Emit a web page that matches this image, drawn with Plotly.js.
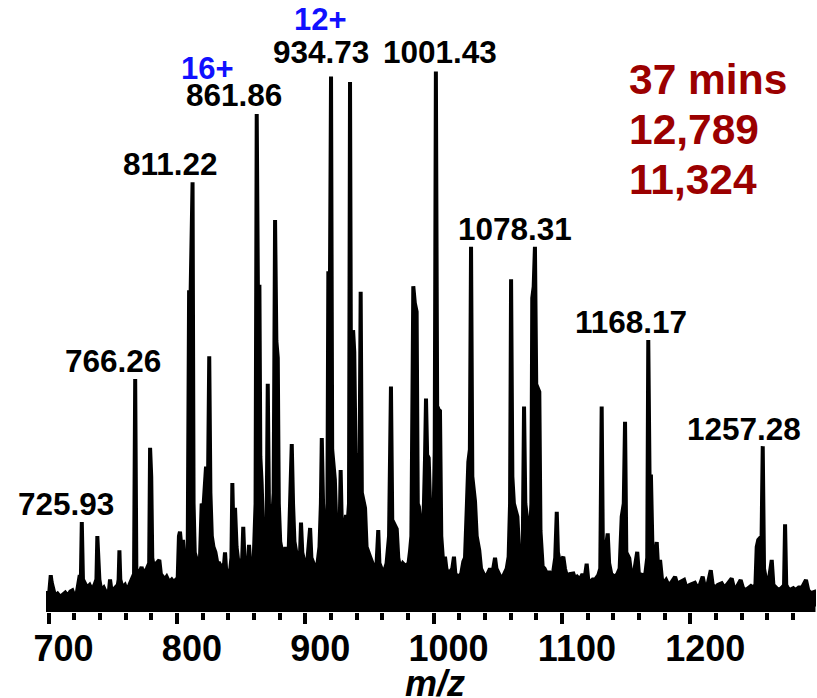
<!DOCTYPE html>
<html>
<head>
<meta charset="utf-8">
<script src="https://cdn.plot.ly/plotly-3.0.1.min.js"></script>
<style>html,body{margin:0;padding:0;background:#fff;}#chart{width:817px;height:698px;}</style>
</head>
<body>
<div id="chart"></div>
<script>
// m/z values
const mz = [698.0,698.6,700.5,701.7,702.4,703.5,705.0,707.0,709.0,711.0,713.0,715.0,717.0,718.5,720.0,722.0,724.3,725.1,725.9,726.8,728.0,730.0,732.0,734.0,735.8,737.3,738.0,738.7,739.6,741.0,743.0,745.0,747.1,747.9,748.7,750.0,752.0,754.0,754.6,755.2,755.9,757.5,759.5,761.0,763.0,764.8,766.6,767.5,768.4,769.8,771.2,772.5,773.6,775.0,776.6,778.4,779.1,780.0,780.8,782.2,784.0,786.3,787.5,789.0,790.5,792.0,794.0,796.0,797.6,799.4,800.6,801.6,802.4,803.5,804.8,805.8,807.0,808.4,809.5,810.7,812.2,813.0,813.9,815.0,816.5,818.0,819.3,820.6,822.7,824.3,825.2,826.1,827.2,828.5,830.0,831.5,833.0,835.0,836.8,837.5,838.3,839.6,841.0,842.5,843.2,844.3,845.3,846.5,848.0,849.6,850.9,851.7,852.6,854.0,855.5,856.2,857.1,858.5,859.9,861.3,862.2,863.1,864.3,865.0,866.0,867.3,868.7,869.9,870.8,871.7,872.6,873.8,875.4,876.5,877.5,878.6,879.4,880.5,882.0,883.5,884.6,885.8,887.2,888.6,889.5,890.5,891.6,893.0,894.5,896.0,896.7,897.7,899.5,901.5,903.1,903.8,904.8,906.5,908.0,909.6,911.1,912.2,912.9,913.9,915.5,917.2,918.0,919.3,920.1,921.0,923.1,924.2,925.5,926.8,927.6,928.5,930.0,931.8,932.9,934.1,934.9,935.8,937.3,938.2,939.2,940.5,942.2,943.2,944.1,946.6,947.8,950.5,952.0,954.0,955.6,956.9,957.8,959.5,961.0,963.4,964.3,965.3,966.8,967.8,971.3,972.5,974.0,976.0,978.0,980.5,981.6,982.7,984.2,985.4,986.8,987.7,988.6,989.8,991.2,992.5,993.3,994.1,995.0,996.2,997.4,998.6,999.8,1000.9,1001.8,1002.8,1004.0,1005.0,1006.0,1007.5,1008.9,1010.0,1011.5,1013.0,1014.6,1015.9,1017.0,1019.3,1021.5,1023.2,1024.5,1026.0,1027.1,1028.3,1029.2,1030.2,1032.3,1033.6,1035.6,1037.0,1038.5,1040.0,1042.0,1044.0,1045.8,1047.9,1049.0,1051.0,1053.0,1055.0,1057.0,1058.5,1059.6,1060.4,1061.4,1062.6,1065.3,1066.5,1068.0,1069.5,1070.5,1071.5,1073.8,1075.0,1076.2,1076.9,1078.0,1079.0,1080.0,1082.4,1083.3,1085.0,1086.5,1088.5,1090.0,1091.3,1093.0,1094.8,1096.0,1096.9,1098.5,1101.1,1102.4,1104.0,1106.0,1108.9,1110.5,1112.0,1114.0,1116.0,1117.6,1119.3,1120.5,1122.0,1124.0,1126.0,1128.4,1129.9,1131.0,1131.9,1133.2,1135.7,1136.8,1138.5,1141.5,1143.2,1145.0,1146.6,1148.2,1149.2,1150.2,1152.5,1154.0,1156.0,1158.7,1160.0,1163.4,1165.0,1166.5,1167.3,1168.3,1169.4,1170.8,1172.5,1173.9,1175.0,1176.5,1178.0,1180.0,1181.2,1183.0,1185.5,1188.2,1190.0,1192.0,1195.2,1197.0,1199.5,1203.6,1205.5,1207.5,1209.7,1211.5,1213.5,1216.0,1217.5,1219.5,1221.5,1224.5,1226.5,1228.5,1232.3,1234.0,1236.0,1239.3,1241.0,1243.0,1247.3,1249.0,1250.8,1251.8,1253.0,1255.6,1256.5,1257.5,1259.0,1261.0,1263.5,1264.8,1266.5,1269.0,1271.5,1273.1,1273.9,1274.8,1277.0,1280.3,1282.0,1284.5,1287.0,1290.2,1292.0,1294.0,1296.5,1297.6];

// relative intensity (%)
const intensity = [1.5,3.5,3.5,6.8,5.5,4.5,3.0,3.4,2.8,3.2,3.6,3.0,3.8,4.0,3.0,3.5,6.8,5.0,16.6,6.0,5.5,4.5,5.0,4.0,5.0,6.0,14.0,9.0,6.0,4.0,4.5,3.5,4.0,6.0,4.5,4.0,4.5,5.0,6.0,11.4,6.0,4.5,5.0,4.0,5.0,6.0,7.0,43.0,8.0,7.0,7.5,8.3,7.0,7.5,8.0,9.0,30.3,25.0,10.0,8.0,9.0,9.6,7.0,6.5,6.0,6.5,5.5,6.0,5.5,6.0,6.0,14.0,14.8,12.0,13.3,10.0,9.0,10.0,59.0,59.0,79.3,20.0,11.0,10.0,9.0,10.0,20.0,19.0,26.8,25.0,47.2,22.0,14.0,12.0,11.0,9.0,9.0,8.0,9.0,11.0,8.0,7.0,6.5,10.0,23.8,12.0,19.2,12.0,9.0,8.0,10.0,15.7,10.0,9.0,9.5,12.4,9.0,9.0,10.0,20.0,91.9,60.0,60.0,28.7,24.0,14.0,12.0,15.0,42.1,20.0,18.0,15.0,22.0,72.3,50.0,46.9,20.0,13.0,11.0,10.0,12.0,10.0,12.0,29.0,31.0,20.0,13.0,11.0,10.0,11.0,16.5,11.0,9.0,9.0,13.0,15.5,10.0,9.0,8.0,9.0,12.0,20.0,32.1,20.0,13.0,14.0,62.5,62.5,98.8,30.0,24.4,16.0,14.0,15.0,26.2,16.0,14.0,17.9,16.0,20.0,97.8,30.0,52.0,48.0,29.3,28.0,22.0,59.1,22.0,19.2,12.0,10.2,9.0,8.0,9.0,15.1,9.0,8.0,7.0,9.0,12.0,14.0,41.6,17.0,15.3,10.0,8.0,9.0,8.5,9.0,11.1,14.0,60.1,57.0,55.4,20.0,19.4,15.0,14.0,20.0,28.0,39.4,29.0,28.4,19.0,19.4,14.0,30.0,99.7,38.0,37.3,37.1,14.0,9.0,10.2,8.0,7.0,7.5,8.0,10.2,7.0,6.5,7.0,9.3,10.0,20.0,27.7,30.0,67.4,25.0,20.4,14.0,11.4,8.0,7.0,6.5,7.0,8.0,7.0,10.0,8.0,7.0,6.0,7.0,8.0,10.2,20.0,61.4,25.0,20.0,17.6,12.0,10.0,12.0,37.9,20.0,15.1,13.0,20.0,57.9,60.0,67.4,42.0,40.6,15.0,8.4,8.0,7.0,7.5,6.8,7.0,10.0,18.5,11.0,9.0,10.2,8.0,6.5,7.0,7.1,6.0,6.5,6.0,7.0,6.0,8.9,6.0,5.5,6.0,6.0,6.8,8.0,37.9,12.0,10.0,14.5,9.0,7.0,6.5,7.0,8.0,17.6,20.0,35.1,11.0,9.9,7.0,7.0,11.1,7.0,6.8,7.0,10.0,50.2,25.0,25.0,9.0,10.0,12.9,8.0,9.6,6.0,5.5,5.9,5.0,5.5,6.5,5.0,5.5,5.9,4.5,5.0,5.4,4.5,5.0,6.5,4.5,5.0,7.7,5.0,4.5,5.0,5.3,4.5,5.0,6.2,4.5,4.5,5.9,4.5,4.0,4.8,4.5,5.0,12.0,13.3,14.0,30.6,8.0,6.0,5.5,9.6,5.0,4.5,4.0,4.5,5.0,16.2,5.0,4.0,4.4,4.0,4.5,4.5,5.9,4.0,3.5,3.7,1.0];

// tick labels
const tickValues = [700,800,900,1000,1100,1200];
const tickLabels = ['700','800','900','1000','1100','1200'];

// peak labels
const peakLabels = ["725.93","766.26","811.22","861.86","934.73","1001.43","1078.31","1168.17","1257.28"];
const chargeLabels = ["16+","12+"];
const infoLines = ["37 mins","12,789","11,324"];

// layout helpers: pixel -> paper
const L = 46, R = 816, T = 70, B = 612;
const px = x => (x - L) / (R - L);
const py = y => (B - y) / (B - T);

const FONT = "Liberation Sans, Arial, sans-serif";

const peakPos = [[66,504],[112.5,361],[170,164],[233.5,95],[320.5,52.5],[440,52.5],[515,228.7],[630.5,322],[744,429]];
const chargePos = [[207.5,68],[320,19]];
const infoPos = [[627,79],[627,129],[627,179.8]];

const annotations = [];
peakLabels.forEach((t,i) => annotations.push({
  xref:'paper', yref:'paper', x: px(peakPos[i][0]), y: py(peakPos[i][1]),
  xanchor:'center', yanchor:'middle', showarrow:false, text:t,
  font:{family:FONT, size:31.5, color:'#000', weight:'bold'}
}));
chargeLabels.forEach((t,i) => annotations.push({
  xref:'paper', yref:'paper', x: px(chargePos[i][0]), y: py(chargePos[i][1]),
  xanchor:'center', yanchor:'middle', showarrow:false, text:t,
  font:{family:FONT, size:31, color:'#1010ff', weight:'bold'}
}));
infoLines.forEach((t,i) => annotations.push({
  xref:'paper', yref:'paper', x: px(infoPos[i][0]), y: py(infoPos[i][1]),
  xanchor:'left', yanchor:'middle', showarrow:false, text:t,
  font:{family:FONT, size:42.5, color:'#9b0000', weight:'bold'}
}));
annotations.push({
  xref:'paper', yref:'paper', x: px(435), y: py(683),
  xanchor:'center', yanchor:'middle', showarrow:false, text:'<i>m/z</i>',
  font:{family:FONT, size:36, color:'#000', weight:'bold'}
});

const trace = {
  x: mz, y: intensity, type:'scatter', mode:'lines',
  line:{color:'#000', width:4},
  fill:'tozeroy', fillcolor:'#000',
  cliponaxis:false, hoverinfo:'skip'
};

const layout = {
  width:817, height:698,
  margin:{l:L, r:817-R, t:T, b:698-B, pad:0},
  paper_bgcolor:'#fff', plot_bgcolor:'#fff',
  showlegend:false,
  xaxis:{
    range:[698,1298], showgrid:false, zeroline:false, showline:false,
    tickmode:'array', tickvals:tickValues, ticktext:tickLabels,
    ticks:'outside', ticklen:11, tickwidth:4, tickcolor:'#000',
    ticklabelshift:15, ticklabelstandoff:-6,
    tickfont:{family:FONT, size:36, color:'#000', weight:'bold'},
    minor:{dtick:20, tick0:700, ticks:'outside', ticklen:7, tickwidth:4, tickcolor:'#000', showgrid:false},
    fixedrange:true
  },
  yaxis:{range:[0,100], visible:false, fixedrange:true},
  annotations: annotations
};

Plotly.newPlot('chart', [trace], layout, {staticPlot:true, displayModeBar:false});
</script>
</body>
</html>
